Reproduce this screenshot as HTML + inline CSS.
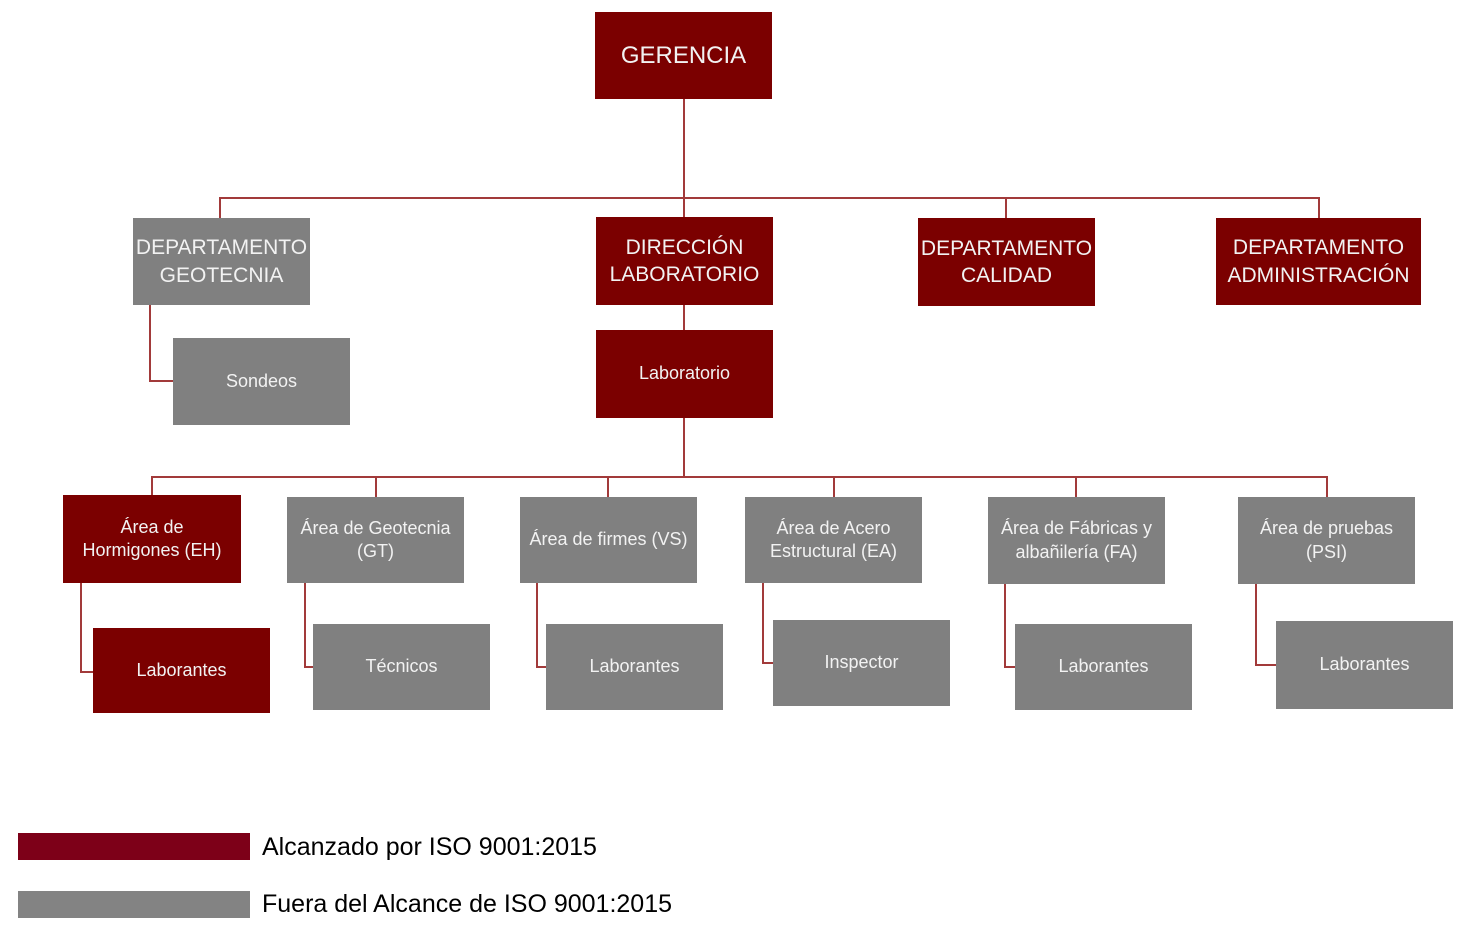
<!DOCTYPE html>
<html><head><meta charset="utf-8"><style>
body{margin:0;width:1472px;height:934px;background:#fff;position:relative;overflow:hidden;font-family:"Liberation Sans",sans-serif}
.b{position:absolute;display:flex;align-items:center;justify-content:center;text-align:center;color:#f2f2f2;line-height:1.3;white-space:nowrap}
.r{background:#7b0000}.g{background:#808080}
.big{font-size:21px}.sm{font-size:18px}
.leg{position:absolute;font-size:25px;color:#000}
</style></head><body>
<svg width="1472" height="934" style="position:absolute;left:0;top:0">
<g stroke="#a23a3a" stroke-width="2" fill="none">
<path d="M684 99V198M220 218V198H1319V218M684 198V217M1006 198V218"/>
<path d="M150 305V381H173"/>
<path d="M684 305V330M684 418V477"/>
<path d="M152 495V477H1327V497M376 477V497M608 477V497M834 477V497M1076 477V497"/>
<path d="M81 583V672H93M305 583V667H313M537 583V667H546M763 583V663H773M1005 584V667H1015M1256 584V665H1276"/>
</g></svg>
<div class="b r big" style="left:595px;top:12px;width:177px;height:87px;font-size:24px">GERENCIA</div>
<div class="b g big" style="left:133px;top:218px;width:177px;height:87px">DEPARTAMENTO<br>GEOTECNIA</div>
<div class="b r big" style="left:596px;top:217px;width:177px;height:88px">DIRECCIÓN<br>LABORATORIO</div>
<div class="b r big" style="left:918px;top:218px;width:177px;height:88px">DEPARTAMENTO<br>CALIDAD</div>
<div class="b r big" style="left:1216px;top:218px;width:205px;height:87px">DEPARTAMENTO<br>ADMINISTRACIÓN</div>
<div class="b g sm" style="left:173px;top:338px;width:177px;height:87px">Sondeos</div>
<div class="b r sm" style="left:596px;top:330px;width:177px;height:88px">Laboratorio</div>
<div class="b r sm" style="left:63px;top:495px;width:178px;height:88px">Área de<br>Hormigones (EH)</div>
<div class="b g sm" style="left:287px;top:497px;width:177px;height:86px">Área de Geotecnia<br>(GT)</div>
<div class="b g sm" style="left:520px;top:497px;width:177px;height:86px">Área de firmes (VS)</div>
<div class="b g sm" style="left:745px;top:497px;width:177px;height:86px">Área de Acero<br>Estructural (EA)</div>
<div class="b g sm" style="left:988px;top:497px;width:177px;height:87px">Área de Fábricas y<br>albañilería (FA)</div>
<div class="b g sm" style="left:1238px;top:497px;width:177px;height:87px">Área de pruebas<br>(PSI)</div>
<div class="b r sm" style="left:93px;top:628px;width:177px;height:85px">Laborantes</div>
<div class="b g sm" style="left:313px;top:624px;width:177px;height:86px">Técnicos</div>
<div class="b g sm" style="left:546px;top:624px;width:177px;height:86px">Laborantes</div>
<div class="b g sm" style="left:773px;top:620px;width:177px;height:86px">Inspector</div>
<div class="b g sm" style="left:1015px;top:624px;width:177px;height:86px">Laborantes</div>
<div class="b g sm" style="left:1276px;top:621px;width:177px;height:88px">Laborantes</div>
<div style="position:absolute;left:18px;top:833px;width:232px;height:27px;background:#7d0018"></div>
<div style="position:absolute;left:18px;top:891px;width:232px;height:27px;background:#838383"></div>
<div class="leg" style="left:262px;top:833px">Alcanzado por ISO 9001:2015</div>
<div class="leg" style="left:262px;top:890px">Fuera del Alcance de ISO 9001:2015</div>
</body></html>
